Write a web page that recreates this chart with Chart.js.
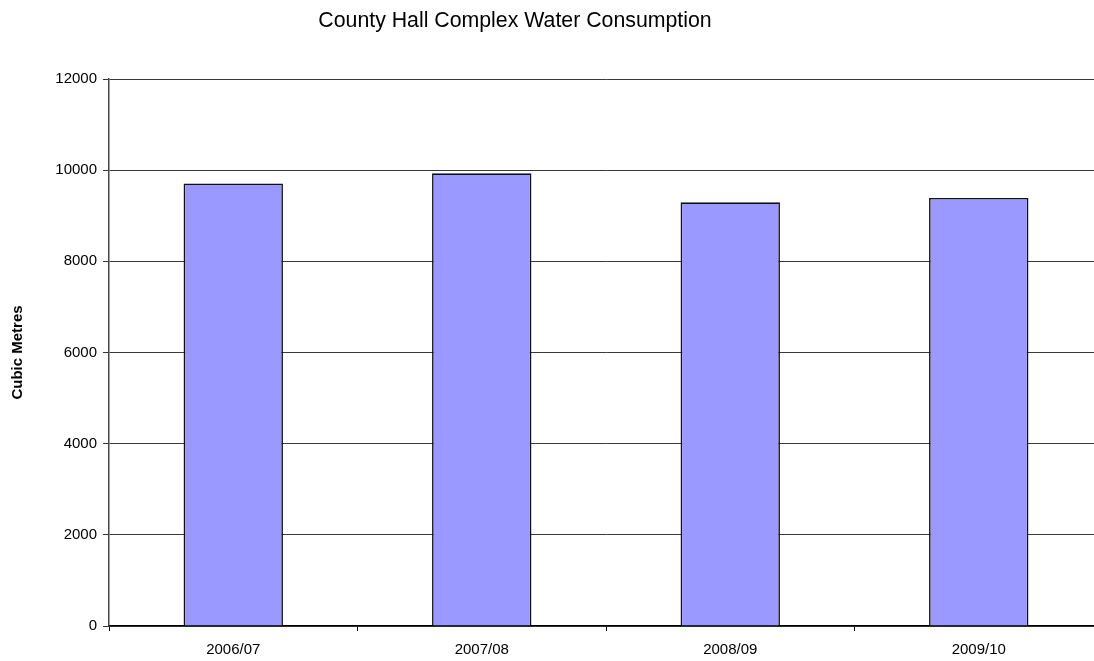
<!DOCTYPE html>
<html>
<head>
<meta charset="utf-8">
<script src="https://cdn.jsdelivr.net/npm/chart.js@4/dist/chart.umd.min.js"></script>
<style>
    html, body { margin: 0; padding: 0; background: #fff; overflow: hidden; }
    #wrap { position: relative; width: 1094px; height: 661px; overflow: hidden; }
    #title {
        position: absolute; left: 0; top: 10px; width: 1030px;
        text-align: center; font: 21.3px/21px "Liberation Sans", Arial, sans-serif; color: #000;
    }
    #chart { position: absolute; left: 0; top: 0; }
</style>
</head>
<body>
<div id="wrap">
    <canvas id="chart" width="1104" height="661"></canvas>
    <div id="title">County Hall Complex Water Consumption</div>
</div>
<script>
const years = ['2006/07', '2007/08', '2008/09', '2009/10'];
const cubicMetres = [9710, 9930, 9295, 9390];
const yMax = 12000;
const yStep = 2000;

const font = { family: '"Liberation Sans", Arial, sans-serif', size: 15 };

new Chart(document.getElementById('chart'), {
    type: 'bar',
    data: {
        labels: years,
        datasets: [{
            label: 'Cubic Metres',
            data: cubicMetres,
            backgroundColor: '#9999FF',
            borderColor: '#111',
            borderWidth: 1.6,
            categoryPercentage: 1,
            barPercentage: 0.4
        }]
    },
    options: {
        responsive: false,
        animation: false,
        devicePixelRatio: 1,
        layout: { padding: { top: 79, right: 1, left: 0, bottom: 0 } },
        scales: {
            x: {
                grid: { drawOnChartArea: false, offset: true, tickLength: 5, color: '#000' },
                border: { color: '#000', width: 1.2 },
                ticks: { color: '#000', font: font, padding: 10, autoSkip: false, maxRotation: 0 },
                afterFit: (s) => { s.height = 35; }
            },
            y: {
                min: 0,
                max: yMax,
                grid: { color: '#3a3a3a', tickLength: 6, tickColor: '#333' },
                border: { color: '#444', width: 1.5 },
                ticks: {
                    color: '#000', font: font, padding: 6,
                    stepSize: yStep, autoSkip: false,
                    callback: (v) => String(v)
                },
                title: {
                    display: true,
                    text: 'Cubic Metres',
                    color: '#000',
                    font: { family: font.family, size: 15, weight: 'bold' },
                    padding: { top: 9, bottom: 0 }
                },
                afterFit: (s) => { s.width = 109; }
            }
        },
        plugins: {
            legend: { display: false },
            tooltip: { enabled: false }
        }
    }
});
</script>
</body>
</html>
